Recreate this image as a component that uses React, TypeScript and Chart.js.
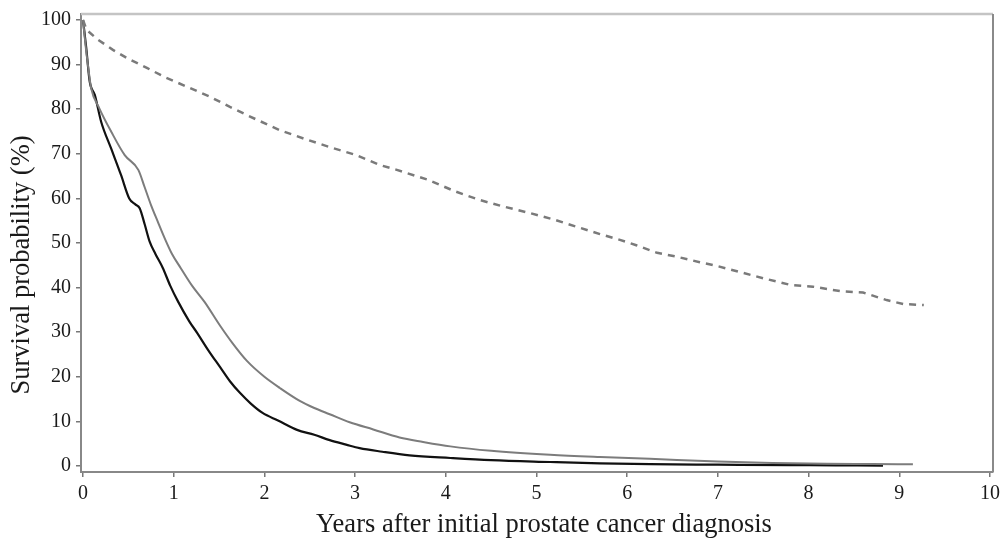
import React, { useEffect, useRef } from "react";
import { Chart, registerables } from "chart.js";

Chart.register(...registerables);

// Dashed grey curve
const dashedYears = [0, 0.04, 0.15, 0.33, 0.5, 0.71, 0.9, 1.15, 1.4, 1.62, 1.9, 2.17, 2.45, 2.72, 3.0, 3.27, 3.46, 3.8, 4.1, 4.38, 4.65, 4.93, 5.2, 5.48, 5.7, 5.92, 6.1, 6.33, 6.55, 6.8, 7.0, 7.24, 7.5, 7.8, 8.05, 8.35, 8.6, 8.86, 9.05, 9.27];
const dashedValues = [100, 97.8, 95.8, 93.3, 91.3, 89.2, 87.2, 85.0, 82.8, 80.5, 77.8, 75.3, 73.3, 71.5, 69.8, 67.5, 66.4, 64.2, 61.6, 59.6, 58.1, 56.7, 55.2, 53.4, 52.0, 50.7, 49.5, 47.8, 46.9, 45.7, 44.8, 43.5, 42.1, 40.6, 40.2, 39.2, 38.9, 37.2, 36.3, 36.1];

// Grey solid curve
const greyYears = [0, 0.03, 0.06, 0.09, 0.18, 0.31, 0.46, 0.61, 0.68, 0.75, 0.82, 0.9, 0.98, 1.08, 1.2, 1.34, 1.51, 1.65, 1.81, 2.0, 2.17, 2.39, 2.55, 2.72, 2.94, 3.2, 3.49, 3.75, 4.05, 4.5, 5.15, 5.7, 6.25, 7, 7.6, 8.2, 8.7, 9.15];
const greyValues = [100, 94, 89, 84.7, 80.2, 75.0, 69.7, 66.4, 62.5, 58.5, 55, 51.1, 47.6, 44.3, 40.5, 36.8, 31.5, 27.5, 23.5, 20.0, 17.5, 14.6, 13.0, 11.6, 9.8, 8.2, 6.4, 5.4, 4.4, 3.4, 2.5, 2.0, 1.6, 1.0, 0.7, 0.5, 0.45, 0.4];

// Black solid curve
const blackYears = [0, 0.036, 0.074, 0.13, 0.2, 0.31, 0.42, 0.51, 0.58, 0.625, 0.68, 0.735, 0.8, 0.88, 0.96, 1.05, 1.17, 1.26, 1.38, 1.51, 1.62, 1.73, 1.85, 1.98, 2.15, 2.36, 2.55, 2.72, 2.9, 3.05, 3.3, 3.6, 4.05, 4.5, 5.15, 5.7, 6.25, 7, 7.8, 8.3, 8.82];
const blackValues = [100, 93.7, 86.2, 83.2, 77.2, 71.2, 65.2, 60.0, 58.6, 57.8, 54.2, 50.3, 47.5, 44.4, 40.5, 36.8, 32.5, 29.8, 26, 22.2, 19, 16.4, 14, 11.9, 10.2, 8.1, 7, 5.8, 4.8, 4.0, 3.2, 2.4, 1.8, 1.3, 0.9, 0.6, 0.4, 0.3, 0.2, 0.15, 0.1];

const xTicks = [0, 1, 2, 3, 4, 5, 6, 7, 8, 9, 10];
const yTicks = [0, 10, 20, 30, 40, 50, 60, 70, 80, 90, 100];

const xTitle = "Years after initial prostate cancer diagnosis";
const yTitle = "Survival probability (%)";

const FONT = "'Liberation Serif', 'Times New Roman', serif";

const toPoints = (xs: number[], ys: number[]) => xs.map((x, i) => ({ x, y: ys[i] }));

const framePlugin = {
  id: "frame",
  afterDraw(chart: any) {
    const { ctx, chartArea } = chart;
    ctx.save();
    ctx.lineWidth = 2.5;
    ctx.strokeStyle = "#c4c4c4";
    ctx.beginPath();
    ctx.moveTo(chartArea.left, chartArea.top);
    ctx.lineTo(chartArea.right, chartArea.top);
    ctx.stroke();
    ctx.lineWidth = 2;
    ctx.strokeStyle = "#8a8a8a";
    ctx.beginPath();
    ctx.moveTo(chartArea.right, chartArea.top);
    ctx.lineTo(chartArea.right, chartArea.bottom);
    ctx.stroke();

    // axis titles
    ctx.fillStyle = "#1a1a1a";
    ctx.font = `26.5px ${FONT}`;
    ctx.textAlign = "center";
    ctx.textBaseline = "middle";
    ctx.fillText(xTitle, 544, 525);
    ctx.translate(22, 265);
    ctx.rotate(-Math.PI / 2);
    ctx.fillText(yTitle, 0, 0);
    ctx.restore();
  },
};

export default function App() {
  const ref = useRef<HTMLCanvasElement | null>(null);

  useEffect(() => {
    if (!ref.current) return;
    const chart = new Chart(ref.current, {
      type: "line",
      data: {
        datasets: [
          {
            data: toPoints(dashedYears, dashedValues),
            borderColor: "#7a7a7a",
            borderWidth: 2.5,
            borderDash: [7, 6],
            pointRadius: 0,
            tension: 0,
            fill: false,
          },
          {
            data: toPoints(greyYears, greyValues),
            borderColor: "#7c7c7c",
            borderWidth: 2,
            pointRadius: 0,
            cubicInterpolationMode: "monotone",
            fill: false,
          },
          {
            data: toPoints(blackYears, blackValues),
            borderColor: "#111111",
            borderWidth: 2.2,
            pointRadius: 0,
            cubicInterpolationMode: "monotone",
            fill: false,
          },
        ],
      },
      options: {
        responsive: false,
        animation: false,
        devicePixelRatio: 1,
        layout: { autoPadding: false, padding: { top: 14, right: 7, left: 0, bottom: 0 } },
        plugins: { legend: { display: false }, tooltip: { enabled: false } },
        scales: {
          x: {
            type: "linear",
            min: -0.022,
            max: 10.033,
            afterBuildTicks: (scale: any) => {
              scale.ticks = xTicks.map((v) => ({ value: v }));
            },
            afterFit: (scale: any) => {
              scale.height = 71;
              scale.paddingLeft = 0;
              scale.paddingRight = 0;
            },
            grid: { display: true, drawOnChartArea: false, drawTicks: true, tickLength: 5, color: "#777", lineWidth: 1.5 },
            border: { display: true, color: "#888", width: 2 },
            ticks: {
              color: "#1a1a1a",
              padding: 5,
              font: { family: FONT, size: 20 },
              maxRotation: 0,
              autoSkip: false,
              callback: (v: any) => String(v),
            },
          },
          y: {
            type: "linear",
            min: -1.345,
            max: 101.345,
            afterBuildTicks: (scale: any) => {
              scale.ticks = yTicks.map((v) => ({ value: v }));
            },
            afterFit: (scale: any) => {
              scale.width = 81;
              scale.paddingTop = 0;
              scale.paddingBottom = 0;
            },
            grid: { display: true, drawOnChartArea: false, drawTicks: true, tickLength: 5, color: "#777", lineWidth: 1.5 },
            border: { display: true, color: "#888", width: 2 },
            ticks: {
              color: "#1a1a1a",
              padding: 5,
              font: { family: FONT, size: 20 },
              autoSkip: false,
              callback: (v: any) => String(v),
            },
          },
        },
      },
      plugins: [framePlugin],
    });
    return () => chart.destroy();
  }, []);

  return (
    <div style={{ position: "fixed", left: 0, top: 0, width: 1000, height: 543, background: "#fff" }}>
      <canvas ref={ref} width={1000} height={543} style={{ display: "block", width: 1000, height: 543 }} />
    </div>
  );
}
